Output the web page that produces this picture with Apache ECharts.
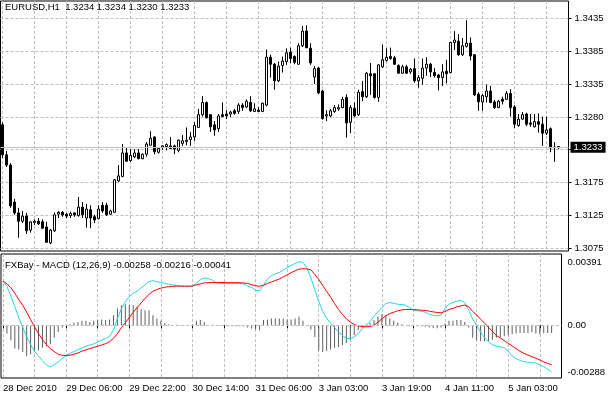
<!DOCTYPE html>
<html><head><meta charset="utf-8">
<script src="https://cdn.jsdelivr.net/npm/echarts@6/dist/echarts.min.js"></script>
<style>html,body{margin:0;padding:0;background:#fff}#c{width:608px;height:394px}</style>
</head><body><div id="c"></div>
<script>
// ---- price bars (EURUSD H1) ----
const open = [1.3268,1.3221,1.3205,1.3147,1.3130,1.3117,1.3125,1.3103,1.3115,1.3117,
1.3116,1.3108,1.3083,1.3102,1.3128,1.3131,1.3128,1.3126,1.3130,1.3126,
1.3139,1.3122,1.3135,1.3124,1.3121,1.3142,1.3142,1.3128,1.3131,1.3180,
1.3187,1.3224,1.3212,1.3218,1.3224,1.3215,1.3222,1.3236,1.3249,1.3225,
1.3233,1.3234,1.3235,1.3235,1.3228,1.3239,1.3242,1.3245,1.3249,1.3264,
1.3284,1.3303,1.3284,1.3268,1.3262,1.3284,1.3285,1.3285,1.3290,1.3289,
1.3299,1.3296,1.3303,1.3289,1.3291,1.3289,1.3299,1.3374,1.3363,1.3337,
1.3361,1.3367,1.3382,1.3375,1.3363,1.3392,1.3415,1.3388,1.3343,1.3357,
1.3321,1.3282,1.3282,1.3289,1.3293,1.3295,1.3311,1.3272,1.3294,1.3284,
1.3320,1.3312,1.3348,1.3348,1.3311,1.3359,1.3369,1.3375,1.3373,1.3361,
1.3349,1.3359,1.3351,1.3356,1.3337,1.3341,1.3357,1.3363,1.3350,1.3346,
1.3342,1.3352,1.3350,1.3397,1.3399,1.3378,1.3391,1.3396,1.3378,1.3316,
1.3304,1.3312,1.3321,1.3304,1.3295,1.3308,1.3308,1.3317,1.3296,1.3267,
1.3277,1.3285,1.3271,1.3265,1.3273,1.3269,1.3255,1.3262,1.3233,1.3234];
const high = [1.3272,1.3227,1.3208,1.3152,1.3138,1.3133,1.3130,1.3117,1.3120,1.3122,
1.3120,1.3116,1.3105,1.3131,1.3133,1.3133,1.3130,1.3132,1.3131,1.3155,
1.3147,1.3144,1.3142,1.3127,1.3142,1.3147,1.3146,1.3135,1.3183,1.3205,
1.3238,1.3232,1.3230,1.3230,1.3230,1.3223,1.3241,1.3258,1.3250,1.3233,
1.3236,1.3239,1.3249,1.3237,1.3245,1.3252,1.3264,1.3257,1.3272,1.3293,
1.3313,1.3305,1.3285,1.3274,1.3285,1.3303,1.3291,1.3290,1.3293,1.3302,
1.3302,1.3308,1.3313,1.3302,1.3296,1.3303,1.3386,1.3378,1.3365,1.3367,
1.3375,1.3388,1.3389,1.3377,1.3396,1.3423,1.3424,1.3396,1.3360,1.3359,
1.3323,1.3291,1.3293,1.3299,1.3300,1.3312,1.3316,1.3299,1.3303,1.3323,
1.3337,1.3351,1.3365,1.3349,1.3363,1.3394,1.3388,1.3389,1.3376,1.3363,
1.3362,1.3362,1.3357,1.3372,1.3346,1.3372,1.3374,1.3365,1.3357,1.3348,
1.3363,1.3370,1.3398,1.3415,1.3410,1.3404,1.3432,1.3405,1.3379,1.3319,
1.3316,1.3331,1.3329,1.3307,1.3307,1.3312,1.3321,1.3324,1.3299,1.3285,
1.3288,1.3287,1.3285,1.3285,1.3286,1.3281,1.3281,1.3264,1.3241,1.3234];
const low = [1.3216,1.3202,1.3138,1.3127,1.3091,1.3114,1.3097,1.3099,1.3111,1.3111,
1.3105,1.3083,1.3081,1.3100,1.3122,1.3124,1.3122,1.3122,1.3124,1.3124,
1.3122,1.3107,1.3106,1.3114,1.3120,1.3130,1.3125,1.3127,1.3130,1.3178,
1.3186,1.3210,1.3210,1.3216,1.3214,1.3214,1.3218,1.3236,1.3222,1.3223,
1.3229,1.3228,1.3230,1.3222,1.3225,1.3235,1.3236,1.3235,1.3243,1.3263,
1.3281,1.3278,1.3257,1.3251,1.3257,1.3280,1.3277,1.3280,1.3284,1.3285,
1.3290,1.3294,1.3288,1.3288,1.3288,1.3288,1.3297,1.3342,1.3323,1.3335,
1.3350,1.3362,1.3365,1.3363,1.3362,1.3390,1.3388,1.3362,1.3332,1.3316,
1.3276,1.3274,1.3280,1.3287,1.3290,1.3294,1.3248,1.3255,1.3280,1.3282,
1.3305,1.3310,1.3315,1.3309,1.3304,1.3357,1.3367,1.3370,1.3362,1.3348,
1.3348,1.3348,1.3348,1.3334,1.3326,1.3331,1.3345,1.3343,1.3342,1.3322,
1.3329,1.3333,1.3349,1.3385,1.3376,1.3376,1.3389,1.3369,1.3313,1.3290,
1.3290,1.3303,1.3302,1.3293,1.3294,1.3300,1.3307,1.3281,1.3263,1.3265,
1.3276,1.3266,1.3265,1.3264,1.3256,1.3235,1.3252,1.3225,1.3210,1.3230];
const close = [1.3221,1.3205,1.3141,1.3130,1.3117,1.3125,1.3102,1.3116,1.3117,1.3113,
1.3106,1.3084,1.3103,1.3127,1.3131,1.3127,1.3125,1.3129,1.3127,1.3139,
1.3127,1.3136,1.3122,1.3119,1.3136,1.3133,1.3127,1.3133,1.3182,1.3188,
1.3224,1.3211,1.3220,1.3224,1.3215,1.3222,1.3238,1.3247,1.3226,1.3231,
1.3235,1.3237,1.3231,1.3230,1.3244,1.3243,1.3244,1.3249,1.3267,1.3284,
1.3303,1.3279,1.3265,1.3260,1.3282,1.3281,1.3282,1.3288,1.3286,1.3299,
1.3295,1.3305,1.3290,1.3293,1.3289,1.3302,1.3374,1.3363,1.3337,1.3360,
1.3368,1.3381,1.3372,1.3366,1.3392,1.3415,1.3389,1.3365,1.3356,1.3318,
1.3278,1.3284,1.3290,1.3295,1.3295,1.3308,1.3271,1.3295,1.3282,1.3319,
1.3312,1.3349,1.3345,1.3311,1.3362,1.3370,1.3374,1.3372,1.3363,1.3349,
1.3359,1.3349,1.3355,1.3337,1.3342,1.3357,1.3363,1.3351,1.3345,1.3342,
1.3351,1.3348,1.3397,1.3401,1.3378,1.3392,1.3396,1.3376,1.3315,1.3304,
1.3314,1.3321,1.3303,1.3295,1.3305,1.3305,1.3317,1.3295,1.3269,1.3277,
1.3284,1.3269,1.3269,1.3273,1.3269,1.3255,1.3260,1.3232,1.3232,1.3233];

// ---- FXBay MACD (12,26,9) ----
const macdLine = [0.00243,0.00214,0.00161,0.00102,0.00044,-0.00011,-0.00062,-0.00105,-0.00142,-0.00166,
-0.00192,-0.00216,-0.00228,-0.00215,-0.00200,-0.00181,-0.00165,-0.00153,-0.00143,-0.00132,
-0.00124,-0.00114,-0.00107,-0.00101,-0.00090,-0.00080,-0.00072,-0.00060,-0.00025,0.00038,
0.00091,0.00130,0.00158,0.00176,0.00188,0.00206,0.00222,0.00240,0.00245,0.00239,
0.00235,0.00230,0.00226,0.00222,0.00219,0.00216,0.00213,0.00212,0.00215,0.00230,
0.00252,0.00259,0.00257,0.00248,0.00234,0.00231,0.00230,0.00230,0.00230,0.00230,
0.00230,0.00227,0.00216,0.00208,0.00193,0.00189,0.00220,0.00255,0.00273,0.00283,
0.00290,0.00302,0.00316,0.00329,0.00339,0.00349,0.00345,0.00315,0.00261,0.00195,
0.00131,0.00077,0.00040,0.00012,-0.00011,-0.00036,-0.00055,-0.00071,-0.00073,-0.00063,
-0.00045,-0.00019,0.00001,0.00022,0.00052,0.00074,0.00099,0.00119,0.00125,0.00121,
0.00116,0.00114,0.00111,0.00097,0.00083,0.00080,0.00078,0.00072,0.00061,0.00055,
0.00052,0.00057,0.00094,0.00116,0.00126,0.00133,0.00137,0.00125,0.00083,0.00035,
0.00001,-0.00036,-0.00067,-0.00090,-0.00105,-0.00114,-0.00117,-0.00123,-0.00142,-0.00167,
-0.00182,-0.00192,-0.00199,-0.00202,-0.00204,-0.00206,-0.00216,-0.00226,-0.00239,-0.00255];
const signalLine = [0.00243,0.00228,0.00206,0.00176,0.00142,0.00110,0.00072,0.00032,-0.00008,-0.00045,
-0.00077,-0.00105,-0.00127,-0.00143,-0.00158,-0.00164,-0.00165,-0.00163,-0.00158,-0.00151,
-0.00141,-0.00134,-0.00127,-0.00121,-0.00114,-0.00107,-0.00100,-0.00089,-0.00071,-0.00045,
-0.00012,0.00015,0.00043,0.00072,0.00098,0.00123,0.00148,0.00170,0.00187,0.00197,
0.00204,0.00209,0.00212,0.00214,0.00215,0.00215,0.00215,0.00215,0.00216,0.00222,
0.00227,0.00233,0.00234,0.00235,0.00235,0.00235,0.00235,0.00234,0.00234,0.00234,
0.00234,0.00232,0.00230,0.00223,0.00217,0.00214,0.00220,0.00230,0.00238,0.00246,
0.00254,0.00266,0.00277,0.00289,0.00299,0.00308,0.00310,0.00309,0.00305,0.00279,
0.00252,0.00219,0.00186,0.00155,0.00120,0.00087,0.00060,0.00036,0.00018,0.00005,
-0.00003,-0.00006,-0.00008,-0.00006,0.00001,0.00018,0.00036,0.00052,0.00065,0.00072,
0.00080,0.00085,0.00087,0.00087,0.00087,0.00085,0.00083,0.00082,0.00078,0.00074,
0.00071,0.00069,0.00076,0.00087,0.00093,0.00102,0.00107,0.00111,0.00102,0.00076,
0.00058,0.00034,0.00012,-0.00010,-0.00032,-0.00056,-0.00068,-0.00083,-0.00098,-0.00112,
-0.00127,-0.00142,-0.00153,-0.00162,-0.00171,-0.00180,-0.00189,-0.00200,-0.00208,-0.00215];
const osma = [0.00000,-0.00045,-0.00081,-0.00127,-0.00132,-0.00145,-0.00169,-0.00158,-0.00145,-0.00136,
-0.00123,-0.00114,-0.00103,-0.00067,-0.00036,-0.00012,-0.00004,0.00007,0.00014,0.00019,
0.00025,0.00025,0.00019,0.00025,0.00029,0.00032,0.00029,0.00032,0.00056,0.00093,
0.00111,0.00116,0.00111,0.00111,0.00102,0.00089,0.00083,0.00083,0.00056,0.00038,
0.00025,0.00014,0.00007,0.00001,0.00003,0.00001,-0.00002,-0.00003,0.00005,0.00025,
0.00029,0.00019,0.00001,0.00000,-0.00002,-0.00003,-0.00004,-0.00004,-0.00004,-0.00004,
-0.00004,-0.00005,-0.00012,-0.00017,-0.00023,-0.00026,0.00029,0.00032,0.00038,0.00038,
0.00038,0.00038,0.00032,0.00032,0.00038,0.00047,0.00025,-0.00004,-0.00023,-0.00063,
-0.00136,-0.00145,-0.00140,-0.00132,-0.00123,-0.00118,-0.00109,-0.00096,-0.00078,-0.00054,
-0.00026,-0.00012,0.00007,0.00014,0.00029,0.00047,0.00061,0.00056,0.00038,0.00025,
0.00014,0.00007,0.00000,-0.00004,-0.00004,-0.00004,-0.00004,-0.00008,-0.00012,-0.00014,
-0.00015,-0.00012,0.00010,0.00025,0.00025,0.00029,0.00029,0.00019,-0.00012,-0.00067,
-0.00081,-0.00085,-0.00087,-0.00085,-0.00078,-0.00067,-0.00063,-0.00059,-0.00054,-0.00048,
-0.00045,-0.00041,-0.00041,-0.00041,-0.00037,-0.00045,-0.00048,-0.00041,-0.00041,-0.00041];

// ---- axis texts ----
const timeLabels = ['28 Dec 2010','29 Dec 06:00','29 Dec 22:00','30 Dec 14:00','31 Dec 06:00','3 Jan 03:00','3 Jan 19:00','4 Jan 11:00','5 Jan 03:00'];
const priceGridValues = [1.3435,1.33835,1.3332,1.32805,1.3229,1.31775,1.3126,1.30745];
const priceTickLabels = ['1.3435','1.3385','1.3335','1.3280','','1.3175','1.3125','1.3075'];
const macdTickValues = [0.00391,0,-0.00288];
const macdTickLabels = ['0.00391','0.00','-0.00288'];
const titleMain = 'EURUSD,H1  1.3234 1.3234 1.3230 1.3233';
const titleMacd = 'FXBay - MACD (12,26,9) -0.00258 -0.00216 -0.00041';
const lastPrice = 1.3233;

const FONT = "'Liberation Sans', Arial, sans-serif";
const FS = 9.5;
const GRID_C = '#c0c0c0';
const DASH = [3, 2];
const NCAT = 142;           // bars + right shift space
const cats = [];
for (let i = 0; i < NCAT; i++) cats.push(String(i));
const candles = open.map((o, i) => [o, close[i], low[i], high[i]]);

function nearestIdx(arr, v) {
  let b = 0, d = Infinity;
  arr.forEach((a, i) => { const e = Math.abs(a - v); if (e < d) { d = e; b = i; } });
  return b;
}

const chart = echarts.init(document.getElementById('c'), null, {renderer: 'canvas'});
chart.setOption({
  animation: false,
  backgroundColor: '#fff',
  textStyle: {fontFamily: FONT},
  title: [
    {text: titleMain, left: 5, top: 2, padding: 0,
     textStyle: {fontFamily: FONT, fontSize: FS, fontWeight: 'normal', color: '#000'}},
    {text: titleMacd, left: 5, top: 260, padding: 0,
     textStyle: {fontFamily: FONT, fontSize: FS, fontWeight: 'normal', color: '#000'}}
  ],
  grid: [
    {left: 0.5, top: 1, width: 568, height: 250, show: true, borderColor: '#000', borderWidth: 1, backgroundColor: 'transparent'},
    {left: 0.5, top: 254, width: 568, height: 124, show: true, borderColor: '#000', borderWidth: 1, backgroundColor: 'transparent'}
  ],
  xAxis: [
    {type: 'category', gridIndex: 0, data: cats, boundaryGap: true,
     axisLine: {show: false}, axisTick: {show: false}, axisLabel: {show: false},
     splitLine: {show: true, alignWithLabel: true, interval: (i) => i % 8 === 0,
                 lineStyle: {color: GRID_C, type: DASH, width: 1}}},
    {type: 'category', gridIndex: 1, data: cats, boundaryGap: true,
     axisLine: {show: false},
     axisTick: {show: true, alignWithLabel: true, interval: (i) => i % 8 === 0, length: 3, lineStyle: {color: '#000'}},
     axisLabel: {show: true, interval: (i) => i % 16 === 0, align: 'left', margin: 5,
                 fontFamily: FONT, fontSize: FS, color: '#000',
                 formatter: (v, i) => timeLabels[Math.round(Number(v) / 16)] || ''},
     splitLine: {show: true, alignWithLabel: true, interval: (i) => i % 8 === 0,
                 lineStyle: {color: GRID_C, type: DASH, width: 1}}}
  ],
  yAxis: [
    {type: 'value', gridIndex: 0, position: 'right', min: 1.30703, max: 1.34621,
     axisLine: {show: false},
     axisTick: {show: true, length: 3, customValues: priceGridValues, lineStyle: {color: '#000'}},
     axisLabel: {show: true, customValues: priceGridValues, margin: 6, fontFamily: FONT, fontSize: FS, color: '#000',
                 formatter: (v) => priceTickLabels[nearestIdx(priceGridValues, v)]},
     splitLine: {show: true, lineStyle: {color: GRID_C, type: DASH, width: 1}}},
    {type: 'value', gridIndex: 1, position: 'right', min: -0.00288, max: 0.00391,
     axisLine: {show: false}, axisTick: {show: false},
     axisLabel: {show: true, customValues: macdTickValues, margin: 6, fontFamily: FONT, fontSize: FS, color: '#000',
                 formatter: (v) => {
                   const k = nearestIdx(macdTickValues, v);
                   const s = macdTickLabels[k];
                   return k === 0 ? '{t|' + s + '}' : (k === 2 ? '{b|' + s + '}' : s);
                 },
                 rich: {t: {padding: [16, 0, 0, 0], fontFamily: FONT, fontSize: FS, color: '#000'},
                        b: {padding: [0, 0, 12, 0], fontFamily: FONT, fontSize: FS, color: '#000'}}},
     splitLine: {show: false}}
  ],
  series: [
    {type: 'candlestick', xAxisIndex: 0, yAxisIndex: 0, data: candles, barWidth: 3, z: 3,
     itemStyle: {color: '#fff', color0: '#000', borderColor: '#000', borderColor0: '#000', borderWidth: 1}},
    {type: 'line', xAxisIndex: 0, yAxisIndex: 0, data: [], symbol: 'none', z: 2,
     markLine: {silent: true, symbol: ['none', 'none'], animation: false, precision: 4,
       lineStyle: {color: GRID_C, type: 'solid', width: 1},
       label: {show: true, position: 'end', distance: 2, formatter: lastPrice.toFixed(4),
               backgroundColor: '#000', color: '#fff', padding: [1, 3, 0, 3], fontFamily: FONT, fontSize: FS},
       data: [{yAxis: lastPrice}]}},
    {type: 'bar', xAxisIndex: 1, yAxisIndex: 1, data: osma, barWidth: 1,
     itemStyle: {color: '#5f5f5f'},
     markLine: {silent: true, symbol: ['none', 'none'], animation: false, precision: 5, label: {show: false},
       lineStyle: {color: GRID_C, type: DASH, width: 1}, data: [{yAxis: 0}]}},
    {type: 'line', xAxisIndex: 1, yAxisIndex: 1, data: macdLine, symbol: 'none',
     lineStyle: {color: '#2ad4e6', width: 1}},
    {type: 'line', xAxisIndex: 1, yAxisIndex: 1, data: signalLine, symbol: 'none',
     lineStyle: {color: '#ff0000', width: 1}}
  ]
});
</script>
</body></html>
